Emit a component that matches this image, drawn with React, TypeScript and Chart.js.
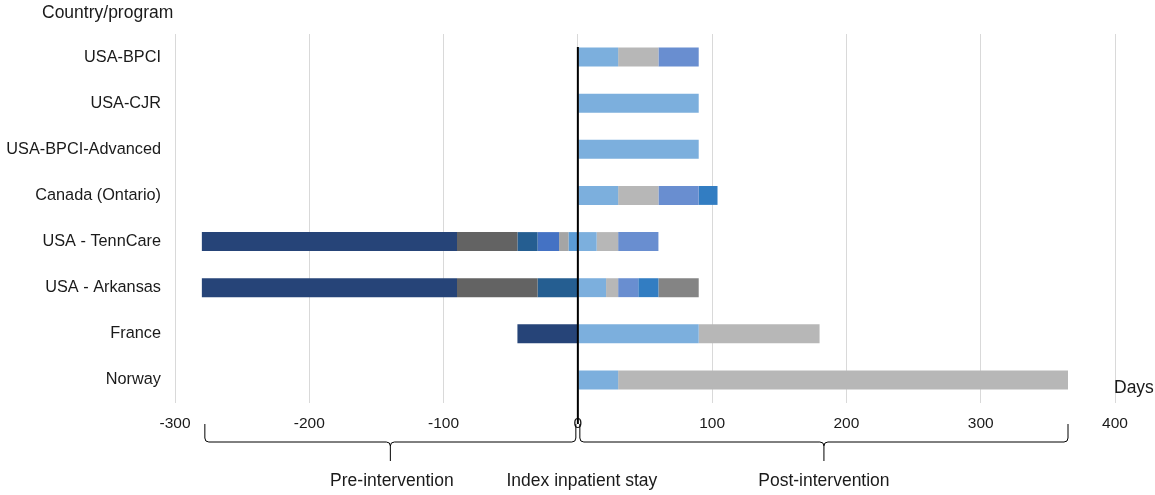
import React, { useEffect, useRef } from "react";
import { Chart, registerables } from "chart.js";

Chart.register(...registerables);

// ---- data ----
const categories = [
  "USA-BPCI",
  "USA-CJR",
  "USA-BPCI-Advanced",
  "Canada (Ontario)",
  "USA - TennCare",
  "USA - Arkansas",
  "France",
  "Norway",
];

// segment boundaries (days relative to index inpatient stay)
const bpciBounds = [0, 30, 60, 90];
const cjrBounds = [0, 90];
const bpciAdvBounds = [0, 90];
const canadaBounds = [0, 30, 60, 90, 104];
const tenncareBounds = [-280, -90, -45, -30, -14, -7, 0, 14, 30, 60];
const arkansasBounds = [-280, -90, -30, 0, 21, 30, 45, 60, 90];
const franceBounds = [-45, 0, 90, 180];
const norwayBounds = [0, 30, 365];

const xTicks = [-300, -200, -100, 0, 100, 200, 300, 400];

// brace ranges
const preRange = [-280, 0];
const postRange = [0, 365];

// ---- styles ----
const NAVY = "#264478";
const DGRAY = "#636363";
const STEEL = "#255E91";
const ROYAL = "#4472C4";
const LGRAY = "#A5A5A5";
const MBLUE = "#5B9BD5";
const LBLUE = "#7CAFDD";
const GRAY = "#B7B7B7";
const CFLOWER = "#698ED0";
const BBLUE = "#327DC2";
const MGRAY = "#848484";

const bpciColors = [LBLUE, GRAY, CFLOWER];
const cjrColors = [LBLUE];
const bpciAdvColors = [LBLUE];
const canadaColors = [LBLUE, GRAY, CFLOWER, BBLUE];
const tenncareColors = [NAVY, DGRAY, STEEL, ROYAL, LGRAY, MBLUE, LBLUE, GRAY, CFLOWER];
const arkansasColors = [NAVY, DGRAY, STEEL, LBLUE, GRAY, CFLOWER, BBLUE, MGRAY];
const franceColors = [NAVY, LBLUE, GRAY];
const norwayColors = [LBLUE, GRAY];

const allBounds = [bpciBounds, cjrBounds, bpciAdvBounds, canadaBounds, tenncareBounds, arkansasBounds, franceBounds, norwayBounds];
const allColors = [bpciColors, cjrColors, bpciAdvColors, canadaColors, tenncareColors, arkansasColors, franceColors, norwayColors];

const FONT = "'Liberation Sans', Arial, sans-serif";
const TEXT = "#1a1a1a";

function drawBrace(ctx: CanvasRenderingContext2D, xa: number, xb: number, y0: number, y1: number, y2: number) {
  const r = 4;
  const xm = (xa + xb) / 2;
  ctx.beginPath();
  ctx.moveTo(xa, y0);
  ctx.lineTo(xa, y1 - r);
  ctx.quadraticCurveTo(xa, y1, xa + r, y1);
  ctx.lineTo(xm - r, y1);
  ctx.quadraticCurveTo(xm, y1, xm, y1 + r);
  ctx.lineTo(xm, y2);
  ctx.moveTo(xm, y1 + r);
  ctx.quadraticCurveTo(xm, y1, xm + r, y1);
  ctx.lineTo(xb - r, y1);
  ctx.quadraticCurveTo(xb, y1, xb, y1 - r);
  ctx.lineTo(xb, y0);
  ctx.stroke();
}

const overlayPlugin = {
  id: "overlay",
  afterDatasetsDraw(chart: any) {
    const ctx = chart.ctx as CanvasRenderingContext2D;
    const xs = chart.scales.x;
    const ys = chart.scales.y;
    const x0 = xs.getPixelForValue(0);
    ctx.save();
    // zero line
    ctx.strokeStyle = "#000";
    ctx.lineWidth = 2;
    ctx.beginPath();
    ctx.moveTo(x0, ys.getPixelForValue(0) - 10);
    ctx.lineTo(x0, 424);
    ctx.stroke();

    // braces
    ctx.lineWidth = 1;
    ctx.strokeStyle = "#000";
    drawBrace(ctx, xs.getPixelForValue(preRange[0]) + 3, xs.getPixelForValue(preRange[1]) - 2, 424, 442, 461);
    drawBrace(ctx, xs.getPixelForValue(postRange[0]) + 2, xs.getPixelForValue(postRange[1]), 424, 442, 461);

    // texts
    ctx.fillStyle = TEXT;
    ctx.font = `17.5px ${FONT}`;
    ctx.textBaseline = "middle";
    ctx.textAlign = "left";
    ctx.fillText("Country/program", 42, 13);
    ctx.fillText("Days", 1114, 388);
    ctx.textAlign = "center";
    ctx.fillText("Pre-intervention", xs.getPixelForValue((preRange[0] + preRange[1]) / 2) + 2, 481);
    ctx.fillText("Index inpatient stay", x0 + 4, 481);
    ctx.fillText("Post-intervention", xs.getPixelForValue((postRange[0] + postRange[1]) / 2) + 1, 481);
    ctx.restore();
  },
};

export default function App() {
  const ref = useRef<HTMLCanvasElement | null>(null);

  useEffect(() => {
    if (!ref.current) return;
    const maxSeg = Math.max(...allBounds.map((b) => b.length - 1));
    const datasets = [] as any[];
    for (let i = 0; i < maxSeg; i++) {
      datasets.push({
        label: `Segment ${i + 1}`,
        data: allBounds.map((b) => (i + 1 < b.length ? [b[i], b[i + 1]] : null)),
        backgroundColor: allColors.map((c) => c[i] || "rgba(0,0,0,0)"),
        borderWidth: 0,
        grouped: false,
        categoryPercentage: 1,
        barPercentage: 0.41,
      });
    }
    const chart = new Chart(ref.current, {
      type: "bar",
      data: { labels: categories, datasets },
      options: {
        indexAxis: "y",
        animation: false,
        responsive: true,
        maintainAspectRatio: false,
        layout: { padding: { top: 34, right: 40, left: 0, bottom: 0 } },
        plugins: { legend: { display: false }, tooltip: { enabled: false } },
        scales: {
          x: {
            type: "linear",
            min: xTicks[0],
            max: xTicks[xTicks.length - 1],
            afterBuildTicks: (s: any) => {
              s.ticks = xTicks.map((v) => ({ value: v }));
            },
            afterFit: (s: any) => {
              s.height = 92;
            },
            grid: { color: "#d9d9d9", lineWidth: 1, drawTicks: false },
            border: { display: false },
            ticks: {
              padding: 11,
              color: TEXT,
              font: { family: FONT, size: 15.5 },
              callback: (v: any) => String(v),
            },
          },
          y: {
            type: "category",
            afterFit: (s: any) => {
              s.width = 175;
            },
            grid: { display: false, drawTicks: false },
            border: { display: false },
            ticks: {
              padding: 14,
              color: TEXT,
              font: { family: FONT, size: 16.3 },
            },
          },
        },
      },
      plugins: [overlayPlugin],
    });
    return () => chart.destroy();
  }, []);

  return (
    <div style={{ position: "absolute", left: 0, top: 0, width: 1155, height: 495, background: "#fff" }}>
      <canvas ref={ref} />
    </div>
  );
}
